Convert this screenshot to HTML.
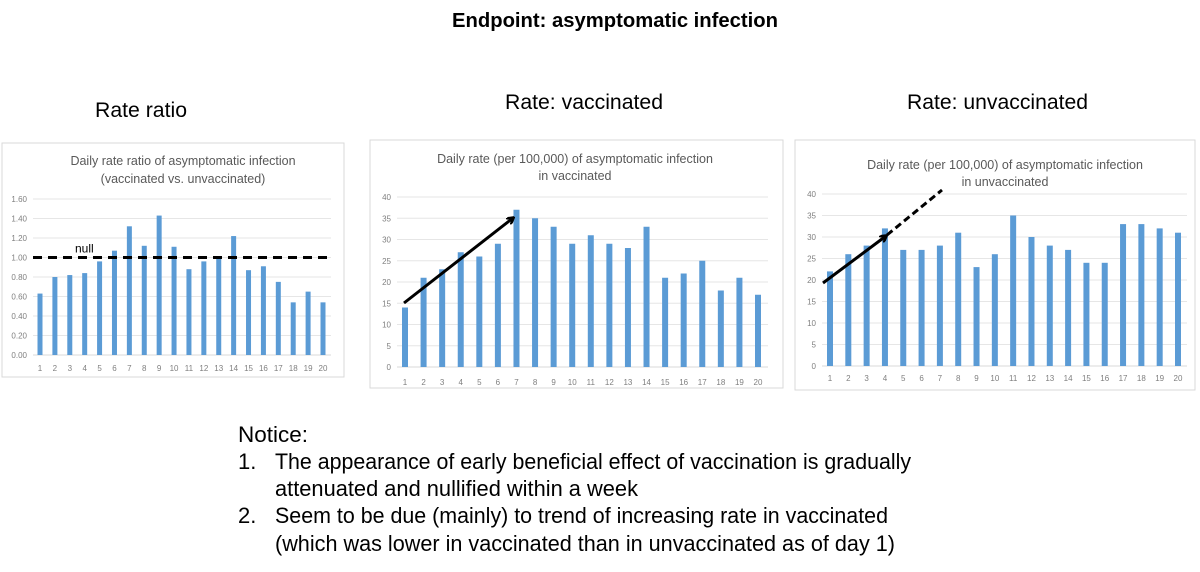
<!DOCTYPE html>
<html><head><meta charset="utf-8"><style>
html,body{margin:0;padding:0;background:#fff;}
svg{display:block;font-family:"Liberation Sans",sans-serif;}
</style></head><body>
<svg id="root" width="1200" height="572" viewBox="0 0 1200 572">
<text x="615" y="27" text-anchor="middle" font-size="20" font-weight="bold" textLength="326" lengthAdjust="spacingAndGlyphs">Endpoint: asymptomatic infection</text>
<text x="95" y="117" font-size="21" textLength="92" lengthAdjust="spacingAndGlyphs">Rate ratio</text>
<text x="505" y="109" font-size="21" textLength="158" lengthAdjust="spacingAndGlyphs">Rate: vaccinated</text>
<text x="907" y="109" font-size="21" textLength="181" lengthAdjust="spacingAndGlyphs">Rate: unvaccinated</text>
<g font-size="22" fill="#000">
<text x="238" y="442" textLength="70" lengthAdjust="spacingAndGlyphs">Notice:</text>
<text x="238" y="469">1.</text>
<text x="275" y="469" textLength="636" lengthAdjust="spacingAndGlyphs">The appearance of early beneficial effect of vaccination is gradually</text>
<text x="275" y="496" textLength="363" lengthAdjust="spacingAndGlyphs">attenuated and nullified within a week</text>
<text x="238" y="523">2.</text>
<text x="275" y="523" textLength="613" lengthAdjust="spacingAndGlyphs">Seem to be due (mainly) to trend of increasing rate in vaccinated</text>
<text x="275" y="551" textLength="620" lengthAdjust="spacingAndGlyphs">(which was  lower in vaccinated  than in unvaccinated as of day 1)</text>
</g>
</svg>
<script>
const days = [1,2,3,4,5,6,7,8,9,10,11,12,13,14,15,16,17,18,19,20];
const ratioValues = [0.63,0.80,0.82,0.84,0.96,1.07,1.32,1.12,1.43,1.11,0.88,0.96,1.00,1.22,0.87,0.91,0.75,0.54,0.65,0.54];
const ratioTicks = ["0.00","0.20","0.40","0.60","0.80","1.00","1.20","1.40","1.60"];
const vaccValues = [14,21,23,27,26,29,37,35,33,29,31,29,28,33,21,22,25,18,21,17];
const unvaccValues = [22,26,28,32,27,27,28,31,23,26,35,30,28,27,24,24,33,33,32,31];
const rateTicks = ["0","5","10","15","20","25","30","35","40"];

const NS = "http://www.w3.org/2000/svg";
const root = document.getElementById('root');
function mk(tag, attrs, parent){
  const e = document.createElementNS(NS, tag);
  for (const k in attrs) e.setAttribute(k, attrs[k]);
  (parent||root).appendChild(e);
  return e;
}

function chart(cfg){
  const g = mk('g', {});
  
  
  const frame = mk('rect', {x:cfg.box[0], y:cfg.box[1], width:cfg.box[2], height:cfg.box[3], fill:'#fff', stroke:'#d9d9d9', 'stroke-width':1}, g);
  
  
  cfg.titles.forEach((t,i)=>{
    const te = mk('text', {x:cfg.titleX, y:cfg.titleY[i], 'text-anchor':'middle', 'font-size':12.5, fill:'#595959'}, g);
    te.textContent = t;
    
    
  });
  const max = cfg.max;
  const y = v => cfg.y0 - (v/max)*(cfg.y0 - cfg.yTop);
  const x = i => cfg.x1 + (i)*(cfg.x20 - cfg.x1)/(days.length-1);
  cfg.ticks.forEach(t=>{
    const v = parseFloat(t);
    const gl = mk('line', {x1:cfg.gx0, x2:cfg.gx1, y1:y(v), y2:y(v), stroke:v===0?'#d9d9d9':'#e6e6e6', 'stroke-width':1}, g);
    
    
    const tl = mk('text', {x:cfg.gx0-6, y:y(v)+3, 'text-anchor':'end', 'font-size':8, fill:'#7f7f7f'}, g);
    tl.textContent = t;
    
    
  });
  cfg.values.forEach((v,i)=>{
    const b = mk('rect', {x:x(i)-cfg.bw/2, y:y(v), width:cfg.bw, height:cfg.y0-y(v), fill:'#5b9bd5'}, g);
    
    
    const xl = mk('text', {x:x(i), y:cfg.labelY, 'text-anchor':'middle', 'font-size':8, fill:'#7f7f7f'}, g);
    xl.textContent = days[i];
    
    
  });
  return {x, y, g};
}

const c1 = chart({name:'rate-ratio-chart', box:[2,143,342,234], titles:['Daily rate ratio of asymptomatic infection','(vaccinated vs. unvaccinated)'], titleX:183, titleY:[165,183],
  values:ratioValues, ticks:ratioTicks, max:1.6, y0:355, yTop:199, x1:40, x20:323, gx0:33, gx1:331, bw:5, labelY:371});
const nl = mk('line', {x1:33, x2:331, y1:c1.y(1.0), y2:c1.y(1.0), stroke:'#000', 'stroke-width':3, 'stroke-dasharray':'9,6'}, c1.g);


const nt = mk('text', {x:75, y:c1.y(1.0)-5, 'font-size':12, fill:'#000'}, c1.g);
nt.textContent = 'null';



const c2 = chart({name:'vaccinated-rate-chart', box:[370,140,413,248], titles:['Daily rate (per 100,000) of asymptomatic infection','in vaccinated'], titleX:575, titleY:[163,180],
  values:vaccValues, ticks:rateTicks, max:40, y0:367, yTop:197, x1:405, x20:758, gx0:397, gx1:768, bw:6, labelY:385});
const c3 = chart({name:'unvaccinated-rate-chart', box:[795,140,400,250], titles:['Daily rate (per 100,000) of asymptomatic infection','in unvaccinated'], titleX:1005, titleY:[169,186],
  values:unvaccValues, ticks:rateTicks, max:40, y0:366, yTop:194, x1:830, x20:1178, gx0:822, gx1:1187, bw:6, labelY:381});

const defs = mk('defs', {});
const mkr = mk('marker', {id:'ah', markerWidth:8, markerHeight:8, refX:6, refY:4, orient:'auto', markerUnits:'userSpaceOnUse'}, defs);
mk('path', {d:'M0,0 L7,4 L0,8', fill:'none', stroke:'#000', 'stroke-width':2.5}, mkr);
// annotation arrows (drawn annotations, not data)
const a1 = mk('line', {x1:404, y1:303, x2:513, y2:218, stroke:'#000', 'stroke-width':3, 'marker-end':'url(#ah)'});


const a2 = mk('line', {x1:823, y1:283, x2:886, y2:236, stroke:'#000', 'stroke-width':3, 'marker-end':'url(#ah)'});


const a3 = mk('line', {x1:887, y1:235, x2:942, y2:190, stroke:'#000', 'stroke-width':3, 'stroke-dasharray':'7,4'});


</script>
</body></html>
